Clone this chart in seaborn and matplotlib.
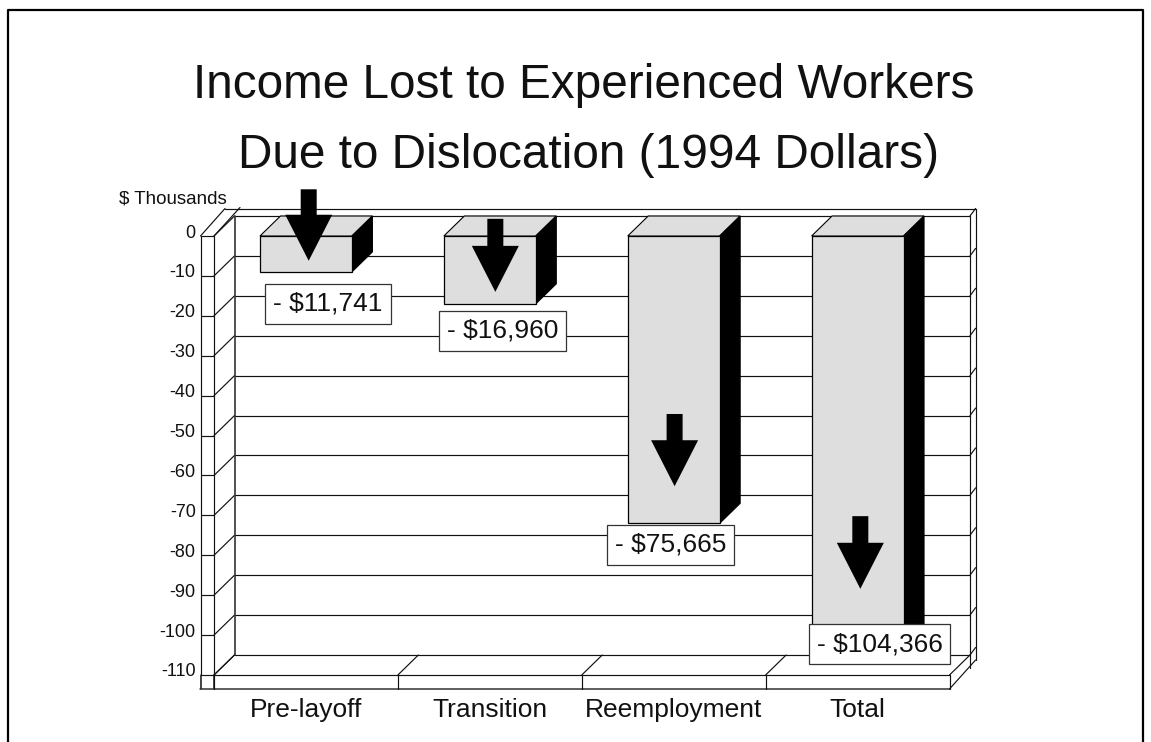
import matplotlib
matplotlib.use("Agg")
import matplotlib.pyplot as plt
from matplotlib.lines import Line2D
from matplotlib.transforms import Affine2D
import pandas as pd
import seaborn as sns

categories = ["Pre-layoff", "Transition", "Reemployment", "Total"]
bar_values = [-9.0, -17.0, -72.0, -104.0]
bar_labels = ["- $11,741", "- $16,960", "- $75,665", "- $104,366"]
label_x = [0.12, 1.068, 1.984, 3.12]
label_y = [-17.0, -23.8, -77.4, -102.3]
arrow_x = [0.015, 1.03, 2.005, 3.015]
arrow_top = [11.7, 4.3, -44.6, -70.2]
arrow_tip = [-6.2, -14.0, -62.7, -88.4]
y_ticks = list(range(0, -120, -10))
y_tick_labels = [str(v) for v in y_ticks]
title_lines = ["Income Lost to Experienced Workers", "Due to Dislocation (1994 Dollars)"]
y_unit = "$ Thousands"

W, H = 1151, 742
DEPTH_X, DEPTH_Y = 20.5, 20.0
LINE = "#111111"
LW = 0.85

sns.set_theme(style="white")
plt.rcParams["font.family"] = ["Liberation Sans", "DejaVu Sans"]

fig = plt.figure(figsize=(W / 100, H / 100), dpi=100, facecolor="white")
ax = fig.add_axes([214 / W, 1 - 675 / H, 735.5 / W, 439 / H])
df = pd.DataFrame({"category": categories, "value": bar_values})
sns.barplot(data=df, x="category", y="value", color="#dedede", saturation=1, width=0.5,
            edgecolor="black", linewidth=0.9, ax=ax, zorder=5)
ax.set_xlim(-0.5, 3.5)
ax.set_ylim(-110, 0)
ax.patch.set_alpha(0)
ax.set_xlabel("")
ax.set_ylabel("")
for s in ax.spines.values():
    s.set_visible(False)


def shifted(dx, dy):
    return ax.transData + Affine2D().translate(dx, dy)


back = shifted(DEPTH_X, DEPTH_Y)


def seg(xs, ys, trans=ax.transData, z=1, lw=LW, color=LINE):
    ax.add_line(Line2D(xs, ys, transform=trans, color=color, lw=lw, zorder=z, clip_on=False))


def slanted(x, y, dx0, dy0, dx1, dy1, z=1, lw=LW):
    p0 = shifted(dx0, dy0).transform((x, y))
    p1 = shifted(dx1, dy1).transform((x, y))
    ax.add_line(Line2D([p0[0], p1[0]], [p0[1], p1[1]], transform=None, color=LINE, lw=lw,
                       zorder=z, clip_on=False))


x0, x1 = -0.5, 3.5
STRIP = 13.5
DROP = 14.0
RAIL_X, RAIL_Y = DEPTH_X + 5.6, DEPTH_Y + 7.5

# back wall grid, left wall diagonals, right wall diagonals
for v in y_ticks:
    seg([x0, x1], [v, v], back)
    slanted(x0, v, 0, 0, DEPTH_X, DEPTH_Y)
    slanted(x1, v, DEPTH_X, DEPTH_Y, RAIL_X, RAIL_Y)

# back wall verticals
seg([x0, x0], [-110, 0], back, lw=1.2, color="#333333")
seg([x1, x1], [-110, 0], back)
seg([x1, x1], [-110, 0], shifted(RAIL_X, RAIL_Y))
slanted(x1, -110, RAIL_X, RAIL_Y, RAIL_X, 15.0)
slanted(x1, -110, DEPTH_X, DEPTH_Y, DEPTH_X, 7.0)

# outer top rail
p_left = shifted(11, RAIL_Y).transform((x0, 0))
p_right = shifted(RAIL_X, RAIL_Y).transform((x1, 0))
ax.add_line(Line2D([p_left[0], p_right[0]], [p_left[1], p_right[1]], transform=None, color=LINE,
                   lw=LW, zorder=1, clip_on=False))
slanted(x0, 0, -STRIP, 0, 11, 27.5)
slanted(x0, 0, 0, 0, 26, 28.5)

# left strip
seg([x0, x0], [-110, 0], shifted(-STRIP, 0))
seg([x0, x0], [-110, 0], ax.transData)
slanted(x0, -110, -STRIP, 0, -STRIP, -DROP, lw=1.1)
slanted(x0, -110, 0, 0, 0, -DROP, lw=1.1)

# floor
seg([x0, x1], [-110, -110], ax.transData)
seg([-0.5735, x1], [-110, -110], shifted(0, -DROP), lw=1.1, color="#333333")
for b in [-0.5, 0.5, 1.5, 2.5, 3.5]:
    slanted(b, -110, 0, 0, DEPTH_X, DEPTH_Y)
    slanted(b, -110, 0, 0, 0, -DROP)
slanted(x1, -110, 0, -DROP, RAIL_X, 15.0)

# ticks
ax.set_yticks(y_ticks)
ax.set_yticklabels(y_tick_labels, fontsize=13, color="#111111")
ax.tick_params(axis="y", which="major", left=True, length=STRIP * 0.72, width=LW, color=LINE, pad=3.5)
ax.set_xticks(range(len(categories)))
ax.set_xticklabels(categories, fontsize=19, color="#111111")
ax.tick_params(axis="x", which="major", bottom=False, pad=10.8)
for lab in ax.get_yticklabels():
    lab.set_transform(lab.get_transform() + Affine2D().translate(0, 5))

# 3-D faces of the bars
for patch in ax.patches:
    bx, bw, bh = patch.get_x(), patch.get_width(), patch.get_height()
    a = ax.transData.transform((bx, 0))
    b = ax.transData.transform((bx + bw, 0))
    c = ax.transData.transform((bx + bw, bh))
    top = [a, b, b + (DEPTH_X, DEPTH_Y), a + (DEPTH_X, DEPTH_Y)]
    side = [b, c, c + (DEPTH_X, DEPTH_Y), b + (DEPTH_X, DEPTH_Y)]
    ax.add_patch(plt.Polygon(top, closed=True, transform=None, facecolor="#dedede", edgecolor="black",
                             lw=0.8, zorder=4, clip_on=False))
    ax.add_patch(plt.Polygon(side, closed=True, transform=None, facecolor="black", edgecolor="black",
                             lw=0.8, zorder=4, clip_on=False))

# arrows
for x, t, tip in zip(arrow_x, arrow_top, arrow_tip):
    ax.annotate("", xy=(x, tip), xytext=(x, t), annotation_clip=False, zorder=7,
                arrowprops=dict(width=16 * 0.72, headwidth=47 * 0.72, headlength=46 * 0.72,
                                shrink=0, facecolor="black", edgecolor="none", linewidth=0))

# value boxes
for x, y, s in zip(label_x, label_y, bar_labels):
    ax.text(x, y, s, ha="center", va="center", fontsize=19, color="#111111", zorder=8,
            clip_on=False,
            bbox=dict(boxstyle="square,pad=0.3", facecolor="white", edgecolor="#333333", linewidth=0.9))

# unit and title
fig.text(119 / W, 1 - 199 / H, y_unit, fontsize=13.5, ha="left", va="center", color="#111111")
fig.text(583.5 / W, 1 - 85 / H, title_lines[0], fontsize=34.4, ha="center", va="center", color="#111111")
fig.text(589 / W, 1 - 155 / H, title_lines[1], fontsize=34.4, ha="center", va="center", color="#111111")

# page frame
fig.add_artist(Line2D([8 / W, 8 / W, 1143 / W, 1143 / W], [0, 1 - 10 / H, 1 - 10 / H, 0],
                      transform=fig.transFigure, color="black", lw=1.6))

fig.savefig("out.png", dpi=100)
